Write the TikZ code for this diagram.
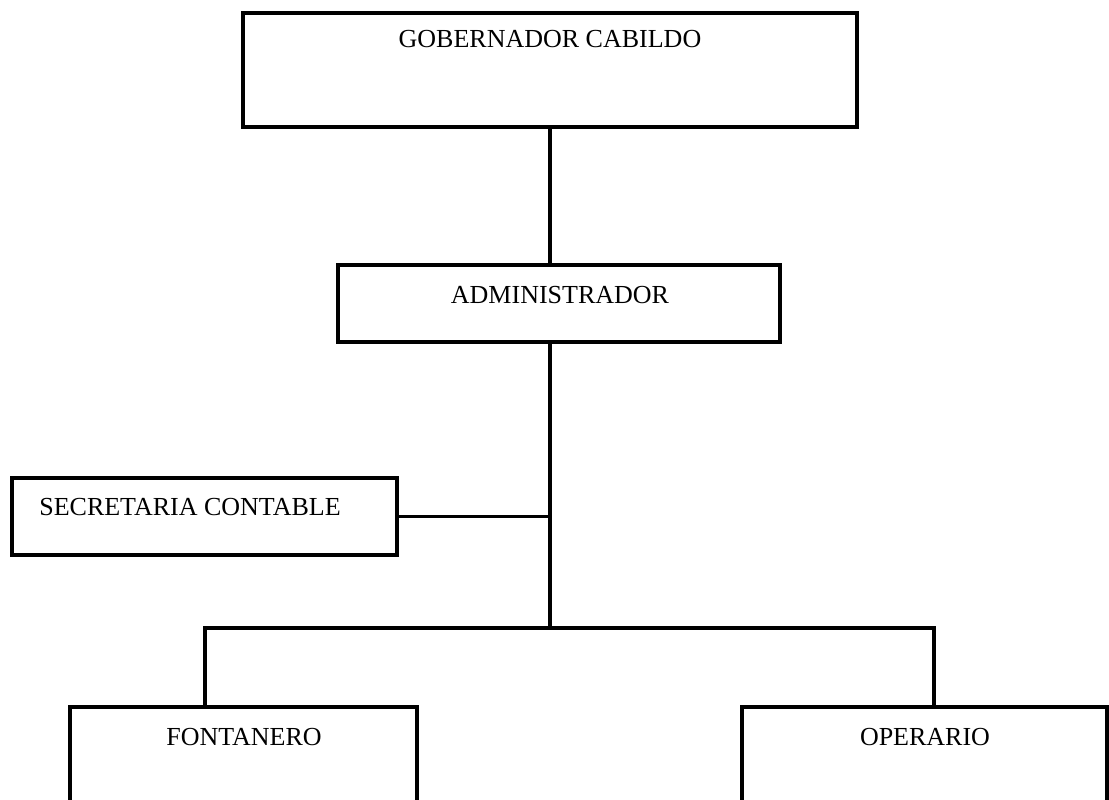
\documentclass[tikz,border=0pt]{standalone}
\usepackage{fontspec}
\setmainfont{Liberation Serif}
\begin{document}
\begin{tikzpicture}[x=1pt,y=-1pt,
  box/.style={draw, line width=4pt, inner sep=0pt, outer sep=0pt},
  lbl/.style={font=\fontsize{26}{30}\selectfont, anchor=base, inner sep=0pt},
  conn/.style={line width=3.5pt}]
\useasboundingbox (0,0) rectangle (1109,800);
\clip (0,0) rectangle (1109,800);
% boxes
\node[box, minimum width=614pt, minimum height=114pt] (gob) at (550,70) {};
\node[box, minimum width=442pt, minimum height=77pt] (adm) at (559,303.5) {};
\node[box, minimum width=385pt, minimum height=77pt] (sec) at (204.5,516.5) {};
\node[box, minimum width=347pt, minimum height=113pt] (fon) at (243.5,763.5) {};
\node[box, minimum width=365pt, minimum height=113pt] (ope) at (924.5,763.5) {};
% labels
\node[lbl] (gobt) at (550,48) {GOBERNADOR CABILDO};
\node[lbl] (admt) at (560,303) {ADMINISTRADOR};
\node[lbl] (sect) at (190,515) {SECRETARIA CONTABLE};
\node[lbl] (font) at (244,745) {FONTANERO};
\node[lbl] (opet) at (925,745) {OPERARIO};
% connectors
\coordinate (j) at (550,628);
\coordinate (jl) at (205,628);
\coordinate (jr) at (934,628);
\draw[conn] (gob.south) -- (gob.south |- adm.north);
\draw[conn] (gob.south |- adm.south) -- (j);
\draw[conn] (sec.east) -- (sec.east -| j);
\draw[conn] (jl |- fon.north) -- (jl) -- (jr) -- (jr |- ope.north);
\end{tikzpicture}
\end{document}
